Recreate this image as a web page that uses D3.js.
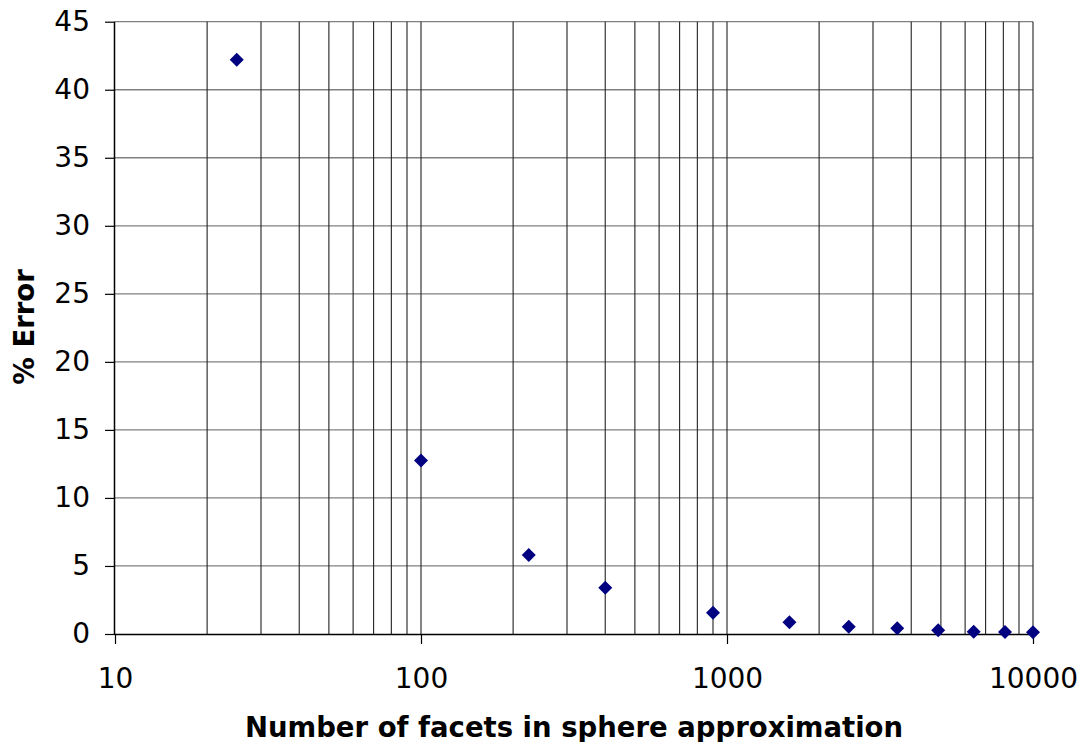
<!DOCTYPE html>
<html><head><meta charset="utf-8">
<script src="https://cdn.jsdelivr.net/npm/d3@7"></script>
<style>body{margin:0;background:#fff}svg{display:block}</style>
</head><body>
<svg id="c" width="1086" height="742"></svg>
<script>
const facets = [25, 100, 225, 400, 900, 1600, 2500, 3600, 4900, 6400, 8100, 10000];
const errors = [42.2, 12.75, 5.8, 3.4, 1.57, 0.86, 0.54, 0.42, 0.27, 0.16, 0.15, 0.13];
const xTicks = [10, 100, 1000, 10000];
const yTicks = [0, 5, 10, 15, 20, 25, 30, 35, 40, 45];
const xTitle = "Number of facets in sphere approximation";
const yTitle = "% Error";

const svg = d3.select("#c");
const L = 115, R = 1033, T = 21.7, B = 634;
const x = d3.scaleLog().domain([10, 10000]).range([L, R]);
const y = d3.scaleLinear().domain([0, 45]).range([B, T]);
const font = "'DejaVu Sans', Verdana, sans-serif";

// horizontal gridlines
svg.append("g").selectAll("line").data(yTicks.filter(d => d > 0)).join("line")
  .attr("x1", L).attr("x2", R).attr("y1", d => y(d)).attr("y2", d => y(d))
  .attr("stroke", "#808080").attr("stroke-width", 1.3);

// vertical gridlines (major + minor)
const vg = [];
for (let dec = 10; dec < 10000; dec *= 10) for (let k = 1; k <= 9; k++) if (dec * k > 10) vg.push(dec * k);
vg.push(10000);
svg.append("g").selectAll("line").data(vg).join("line")
  .attr("x1", d => x(d)).attr("x2", d => x(d)).attr("y1", T).attr("y2", B)
  .attr("stroke", "#222").attr("stroke-width", 1.1);

// axes
const yAxis = d3.axisLeft(y).tickValues(yTicks).tickSize(10).tickPadding(15).tickFormat(d3.format("d"));
const gy = svg.append("g").attr("transform", `translate(${L},0)`).call(yAxis);
const xAxis = d3.axisBottom(x).tickValues(xTicks).tickSize(10).tickPadding(24).tickFormat(d3.format("d"));
const gx = svg.append("g").attr("transform", `translate(0,${B})`).call(xAxis);
[gx, gy].forEach(g => {
  g.select(".domain").attr("stroke", "#000").attr("stroke-width", 1.5);
  g.selectAll(".tick line").attr("stroke", "#000").attr("stroke-width", 1.2);
  g.selectAll("text").attr("font-family", font).attr("font-size", 28).attr("fill", "#000");
});
gy.select(".domain").attr("d", `M-0.5,${T}V${B}`);
gx.select(".domain").attr("d", `M${L},0.5H${R}`);
gx.selectAll("text").attr("dy", "0.71em");

// points
svg.append("g").selectAll("path").data(facets.map((f, i) => [f, errors[i]])).join("path")
  .attr("transform", d => `translate(${x(d[0])},${y(d[1])})`)
  .attr("d", "M0,-7L7,0L0,7L-7,0Z")
  .attr("fill", "#000080");

// titles
svg.append("text").attr("x", 574).attr("y", 737).attr("text-anchor", "middle")
  .attr("font-family", font).attr("font-weight", "bold").attr("font-size", 27.5).text(xTitle);
svg.append("text").attr("transform", "translate(34,327) rotate(-90)").attr("text-anchor", "middle")
  .attr("font-family", font).attr("font-weight", "bold").attr("font-size", 27.5).text(yTitle);
</script>
</body></html>
